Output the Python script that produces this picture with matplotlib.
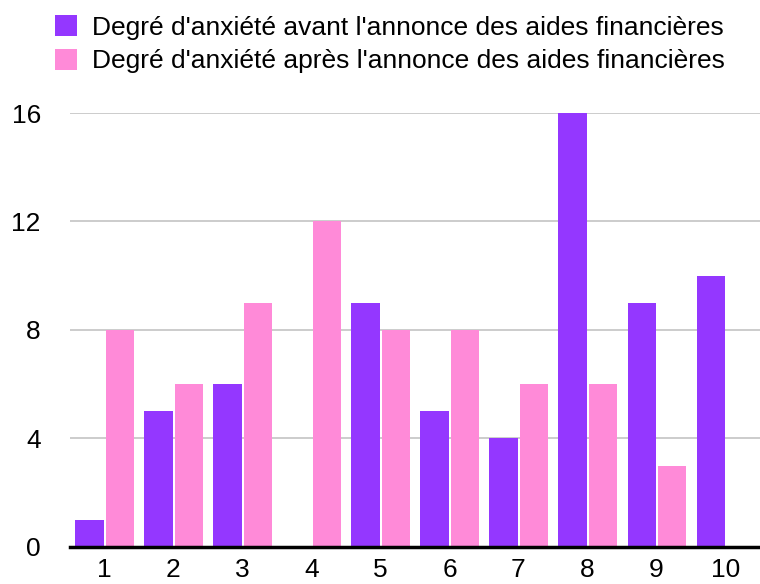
import matplotlib.pyplot as plt
import numpy as np

plt.rcParams['font.family'] = ['Liberation Sans', 'DejaVu Sans']

categories = ['1', '2', '3', '4', '5', '6', '7', '8', '9', '10']
avant = [1, 5, 6, 0, 9, 5, 4, 16, 9, 10]
apres = [8, 6, 9, 12, 8, 8, 6, 6, 3, 0]
yticks = [0, 4, 8, 12, 16]

purple = '#9437FF'
pink = '#FF8AD8'

fig = plt.figure(figsize=(7.6, 5.84), dpi=100)
ax = fig.add_axes([0.092, 0.0634, 0.908, 0.7431])

x = np.arange(1, len(categories) + 1)
w = 0.41
ax.bar(x - 0.215, avant, w, color=purple,
       label="Degré d'anxiété avant l'annonce des aides financières")
ax.bar(x + 0.225, apres, w, color=pink,
       label="Degré d'anxiété après l'annonce des aides financières")

ax.set_xlim(0.5, 10.5)
ax.set_ylim(0, 16)
ax.set_yticks(yticks)
ax.set_xticks(x)
ax.set_xticklabels(categories)
ax.yaxis.grid(True, color='#c4c4c4', linewidth=1.2)
ax.set_axisbelow(True)
for s in ['top', 'right', 'left']:
    ax.spines[s].set_visible(False)
ax.spines['bottom'].set_linewidth(2.5)
ax.spines['bottom'].set_color('black')
ax.tick_params(axis='both', length=0, labelsize=19)
ax.tick_params(axis='y', pad=21)
ax.tick_params(axis='x', pad=8)
for lab in ax.get_yticklabels():
    lab.set_horizontalalignment('right')

fig.legend(loc='upper left', bbox_to_anchor=(0.072, 0.974), frameon=False,
           fontsize=19, handlelength=0.85, handleheight=0.85,
           handletextpad=0.55, labelspacing=0.33, borderpad=0,
           borderaxespad=0)

fig.savefig('out.png', dpi=100)
